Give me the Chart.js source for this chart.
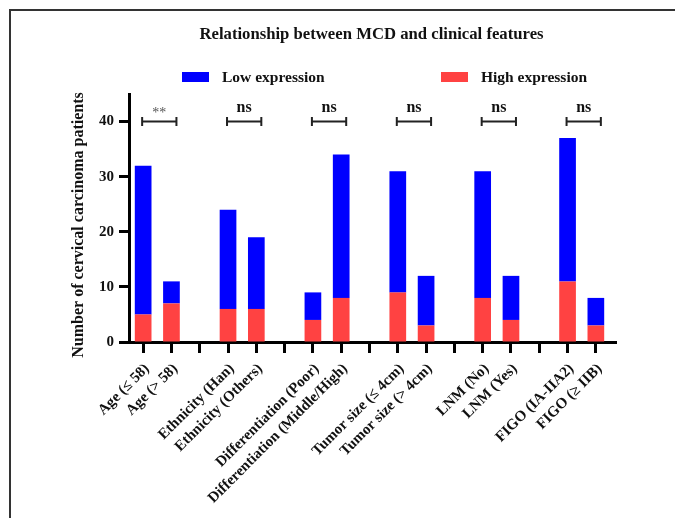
<!DOCTYPE html>
<html>
<head>
<meta charset="utf-8">
<script src="https://cdn.jsdelivr.net/npm/chart.js@4"></script>
<style>
    html, body { margin: 0; padding: 0; background: #fff; }
    #myChart { display: block; }
</style>
</head>
<body>
<canvas id="myChart" width="675" height="518"></canvas>
<script>
// Categories, blank entries are the gaps between the groups
const categories = [
    'Age (≤ 58)', 'Age (> 58)', '',
    'Ethnicity (Han)', 'Ethnicity (Others)', '',
    'Differentiation (Poor)', 'Differentiation (Middle/High)', '',
    'Tumor size (≤ 4cm)', 'Tumor size (> 4cm)', '',
    'LNM (No)', 'LNM (Yes)', '',
    'FIGO (IA-IIA2)', 'FIGO (≥ IIB)'
];

// stacked counts, high expression sits at the bottom
const highExpression = [5, 7, null, 6, 6, null, 4, 8, null, 9, 3, null, 8, 4, null, 11, 3];
const lowExpression = [27, 4, null, 18, 13, null, 5, 26, null, 22, 9, null, 23, 8, null, 26, 5];

// significance brackets
const sigPairs = [[0, 1], [3, 4], [6, 7], [9, 10], [12, 13], [15, 16]];
const sigLabels = ['**', 'ns', 'ns', 'ns', 'ns', 'ns'];
const sigLevel = 40;

const yTicks = [0, 10, 20, 30, 40];
const titleText = 'Relationship between MCD and clinical features';
const yTitle = 'Number of cervical carcinoma patients';

const serif = '"Liberation Serif", "Times New Roman", serif';
Chart.defaults.font.family = serif;
Chart.defaults.color = '#111';

const extras = {
    id: 'extras',
    beforeDraw(chart) {
        const ctx = chart.ctx;
        ctx.save();
        ctx.fillStyle = '#fff';
        ctx.fillRect(0, 0, chart.width, chart.height);
        // figure frame (left and top edges only)
        ctx.strokeStyle = '#333';
        ctx.lineWidth = 2;
        ctx.beginPath();
        ctx.moveTo(10, chart.height);
        ctx.lineTo(10, 10);
        ctx.lineTo(chart.width, 10);
        ctx.stroke();
        ctx.restore();
    },
    afterDraw(chart) {
        const { ctx, chartArea, scales } = chart;
        const x = scales.x, y = scales.y;
        ctx.save();

        // title
        ctx.font = 'bold 16.7px ' + serif;
        ctx.fillStyle = '#111';
        ctx.textAlign = 'center';
        ctx.textBaseline = 'alphabetic';
        ctx.fillText(titleText, (chartArea.left + chartArea.right) / 2 + 2, 39);

        // y axis title
        ctx.save();
        ctx.translate(79, (chartArea.top + chartArea.bottom) / 2 + 7);
        ctx.rotate(-Math.PI / 2);
        ctx.font = 'bold 16px ' + serif;
        ctx.textBaseline = 'middle';
        ctx.fillText(yTitle, 0, 0);
        ctx.restore();

        // legend
        const legendX = [chartArea.left + 53, chartArea.left + 312];
        const order = [1, 0]; // low first, then high
        ctx.font = 'bold 15.5px ' + serif;
        ctx.textAlign = 'left';
        order.forEach((di, k) => {
            const ds = chart.data.datasets[di];
            ctx.fillStyle = ds.backgroundColor;
            ctx.fillRect(legendX[k], 72, 27, 10);
            ctx.fillStyle = '#111';
            ctx.fillText(ds.label, legendX[k] + 40, 82);
        });

        // x axis runs a little past the last tick
        ctx.strokeStyle = '#000';
        ctx.lineWidth = 3;
        ctx.beginPath();
        ctx.moveTo(chartArea.right - 1, chartArea.bottom + 0.5);
        ctx.lineTo(chartArea.right + 7, chartArea.bottom + 0.5);
        ctx.stroke();

        // brackets
        const yy = y.getPixelForValue(sigLevel);
        ctx.strokeStyle = '#222';
        ctx.lineWidth = 2;
        sigPairs.forEach((p, i) => {
            const x1 = x.getPixelForValue(p[0]) - 1;
            const x2 = x.getPixelForValue(p[1]) + 5;
            ctx.beginPath();
            ctx.moveTo(x1, yy); ctx.lineTo(x2, yy);
            ctx.moveTo(x1, yy - 4.5); ctx.lineTo(x1, yy + 4.5);
            ctx.moveTo(x2, yy - 4.5); ctx.lineTo(x2, yy + 4.5);
            ctx.stroke();
            const cx = (x1 + x2) / 2;
            ctx.textAlign = 'center';
            if (sigLabels[i] === '**') {
                ctx.font = '14px ' + serif;
                ctx.fillStyle = '#555';
                ctx.textBaseline = 'middle';
                ctx.fillText(sigLabels[i], cx, yy - 8);
            } else {
                ctx.font = 'bold 16px ' + serif;
                ctx.fillStyle = '#111';
                ctx.textBaseline = 'alphabetic';
                ctx.fillText(sigLabels[i], cx, yy - 10);
            }
        });
        ctx.restore();
    }
};

const ctx = document.getElementById('myChart').getContext('2d');
const myChart = new Chart(ctx, {
    type: 'bar',
    data: {
        labels: categories,
        datasets: [
            {
                label: 'High expression',
                data: highExpression,
                backgroundColor: '#FF4242',
                borderWidth: 0
            },
            {
                label: 'Low expression',
                data: lowExpression,
                backgroundColor: '#0000FF',
                borderWidth: 0
            }
        ]
    },
    options: {
        responsive: false,
        animation: false,
        categoryPercentage: 1,
        barPercentage: 0.59,
        layout: {
            padding: { top: 94, right: 65, bottom: 0, left: 0 }
        },
        scales: {
            x: {
                stacked: true,
                offset: true,
                grid: {
                    offset: false,
                    drawOnChartArea: false,
                    tickLength: 11,
                    tickWidth: 3,
                    tickColor: '#000'
                },
                border: { width: 3, color: '#000' },
                ticks: {
                    autoSkip: false,
                    minRotation: 45,
                    maxRotation: 45,
                    padding: 7,
                    labelOffset: 4,
                    color: '#111',
                    font: { size: 15, weight: 'bold' }
                },
                afterFit: (scale) => { scale.height = 176; }
            },
            y: {
                stacked: true,
                min: 0,
                max: 45,
                grid: {
                    drawOnChartArea: false,
                    tickLength: 10,
                    tickWidth: 3,
                    tickColor: '#000'
                },
                border: { width: 3, color: '#000' },
                ticks: {
                    stepSize: 10,
                    padding: 5,
                    color: '#111',
                    font: { size: 15, weight: 'bold' }
                },
                afterBuildTicks: (axis) => {
                    axis.ticks = yTicks.map(v => ({ value: v }));
                },
                afterFit: (scale) => { scale.width = 129; }
            }
        },
        plugins: {
            legend: { display: false },
            title: { display: false },
            tooltip: { enabled: false }
        }
    },
    plugins: [extras]
});
</script>
</body>
</html>
